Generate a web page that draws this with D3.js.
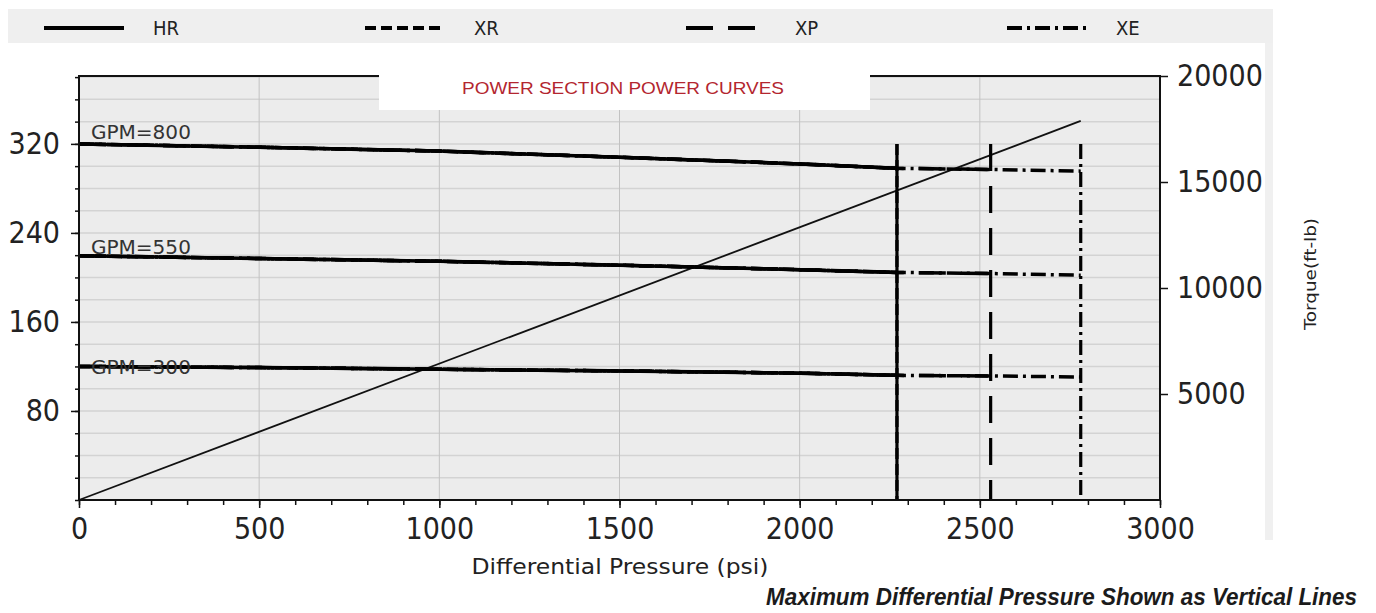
<!DOCTYPE html>
<html><head><meta charset="utf-8">
<script src="https://cdn.jsdelivr.net/npm/d3@7"></script>
<style>body{margin:0;background:#fff;} svg{display:block;}</style>
</head><body><svg id="c" width="1376" height="613"></svg>
<script>
// ---- data ----
const seriesNames = ["HR", "XR", "XP", "XE"];
const maxPressure = [2270, 2270, 2530, 2780];
const gpmLabels = ["GPM=800", "GPM=550", "GPM=300"];
const gpmLabelAnchor = [324, 221, 113];
const pressurePoints = [0, 500, 1000, 1500, 2000, 2270, 2530, 2780];
const rpm800 = [320, 317, 313.5, 308, 302, 298, 297, 295.5];
const rpm550 = [219.5, 217, 214.5, 211, 207, 204.5, 203.5, 202];
const rpm300 = [120, 119, 117.5, 116, 114, 112, 111.5, 110.5];
const verticalTop = 320;
const torquePressure = [0, 2780];
const torqueValues = [0, 17880];
const xTicks = [0, 500, 1000, 1500, 2000, 2500, 3000];
const leftTicks = [80, 160, 240, 320];
const rightTicks = [5000, 10000, 15000, 20000];
const titleText = "POWER SECTION POWER CURVES";
const xLabel = "Differential Pressure (psi)";
const yRightLabel = "Torque(ft-lb)";
const noteText = "Maximum Differential Pressure Shown as Vertical Lines";

// ---- styles ----
const dashes = {HR: null, XR: "11,5", XP: "27,15", XE: "15,5,3,5"};
const COND = "'DejaVu Sans Condensed','DejaVu Sans',sans-serif";

const svg = d3.select("#c");
const L = 79, R = 1160, T = 76, B = 500;
const x = d3.scaleLinear().domain([0, 3000]).range([L, R]);
const yL = d3.scaleLinear().domain([0, 381]).range([B, T]);
const yR = d3.scaleLinear().domain([0, 20000]).range([B, T]);

// legend band and right strip
svg.append("rect").attr("x", 8).attr("y", 9).attr("width", 1265).attr("height", 34).attr("fill", "#efefef");
svg.append("rect").attr("x", 1265).attr("y", 43).attr("width", 8).attr("height", 497).attr("fill", "#f0f0f0");

// plot background
svg.append("rect").attr("x", L).attr("y", T).attr("width", R - L).attr("height", B - T).attr("fill", "#ececec");

// grids
const hGrid = d3.range(20, 381, 20);
svg.append("g").selectAll("line").data(hGrid).join("line")
  .attr("x1", L).attr("x2", R).attr("y1", d => yL(d)).attr("y2", d => yL(d))
  .attr("stroke", "#d3d3d3").attr("stroke-width", 1.5);
svg.append("g").selectAll("line").data(xTicks.slice(1, -1)).join("line")
  .attr("x1", d => x(d)).attr("x2", d => x(d)).attr("y1", T).attr("y2", B)
  .attr("stroke", "#c2c2c2").attr("stroke-width", 1);

// torque line
const lineT = d3.line().x(d => x(d[0])).y(d => yR(d[1]));
svg.append("path").datum(torquePressure.map((p, i) => [p, torqueValues[i]]))
  .attr("d", lineT).attr("fill", "none").attr("stroke", "#111").attr("stroke-width", 1.8);

// GPM curves
const lineL = d3.line().x(d => x(d[0])).y(d => yL(d[1]));
const gpmData = [rpm800, rpm550, rpm300];
const order = [3, 2, 1, 0];
gpmData.forEach((vals, gi) => {
  order.forEach(si => {
    const name = seriesNames[si];
    const pts = pressurePoints.map((p, i) => [p, vals[i]]).filter(d => d[0] <= maxPressure[si]);
    svg.append("path").datum(pts).attr("d", lineL)
      .attr("fill", "none").attr("stroke", "#000").attr("stroke-width", 3.5)
      .attr("stroke-dasharray", dashes[name]);
  });
  svg.append("text").attr("x", x(33)).attr("y", yL(gpmLabelAnchor[gi]))
    .attr("font-family", "'DejaVu Sans',sans-serif").attr("font-size", 20)
    .attr("fill", "#333").attr("textLength", 100).attr("lengthAdjust", "spacingAndGlyphs")
    .text(gpmLabels[gi]);
});

// vertical max-pressure lines
order.forEach(si => {
  const name = seriesNames[si];
  svg.append("line").attr("x1", x(maxPressure[si])).attr("x2", x(maxPressure[si]))
    .attr("y1", yL(verticalTop)).attr("y2", yL(0))
    .attr("stroke", "#000").attr("stroke-width", 3.2)
    .attr("stroke-dasharray", dashes[name]);
});

// axes
function styleAxis(g, size) {
  g.select(".domain").remove();
  g.selectAll(".tick line").attr("stroke", "#111").attr("stroke-width", 1.5);
  g.selectAll("text").attr("font-family", COND).attr("font-stretch", "condensed")
    .attr("font-size", size).attr("fill", "#222");
}
// minor ticks
svg.append("g").attr("transform", `translate(0,${B})`)
  .call(d3.axisBottom(x).tickValues(d3.range(0, 3001, 100)).tickSize(5).tickFormat(""))
  .call(g => styleAxis(g, 0));
svg.append("g").attr("transform", `translate(${L},0)`)
  .call(d3.axisLeft(yL).tickValues(d3.range(0, 381, 20)).tickSize(4).tickFormat(""))
  .call(g => styleAxis(g, 0));
// major ticks
svg.append("g").attr("transform", `translate(0,${B})`)
  .call(d3.axisBottom(x).tickValues(xTicks).tickSize(8).tickPadding(10).tickFormat(d3.format("d")))
  .call(g => styleAxis(g, 30));
svg.append("g").attr("transform", `translate(${L},0)`)
  .call(d3.axisLeft(yL).tickValues(leftTicks).tickSize(8).tickPadding(11).tickFormat(d3.format("d")))
  .call(g => styleAxis(g, 30));
svg.append("g").attr("transform", `translate(${R},0)`)
  .call(d3.axisRight(yR).tickValues(rightTicks).tickSize(8).tickPadding(9).tickFormat(d3.format("d")))
  .call(g => styleAxis(g, 30));

// border
svg.append("rect").attr("x", L).attr("y", T).attr("width", R - L).attr("height", B - T)
  .attr("fill", "none").attr("stroke", "#111").attr("stroke-width", 2);

// title box
svg.append("rect").attr("x", 379).attr("y", 69).attr("width", 491).attr("height", 41).attr("fill", "#fff");
svg.append("text").attr("x", 623).attr("y", 94).attr("text-anchor", "middle")
  .attr("font-family", "'Liberation Sans',Arial,sans-serif").attr("font-size", 16.5)
  .attr("fill", "#b3262f").attr("textLength", 322).attr("lengthAdjust", "spacingAndGlyphs").text(titleText);

// axis labels
svg.append("text").attr("x", 620).attr("y", 574).attr("text-anchor", "middle")
  .attr("font-family", COND).attr("font-size", 21).attr("fill", "#222")
  .attr("textLength", 297).attr("lengthAdjust", "spacingAndGlyphs").text(xLabel);
svg.append("text").attr("transform", "translate(1316,274) rotate(-90)").attr("text-anchor", "middle")
  .attr("font-family", COND).attr("font-size", 16).attr("fill", "#222")
  .attr("textLength", 112).attr("lengthAdjust", "spacingAndGlyphs").text(yRightLabel);

// legend
seriesNames.forEach((name, i) => {
  const lx = 44 + i * 321;
  svg.append("line").attr("x1", lx).attr("x2", lx + 80).attr("y1", 28).attr("y2", 28)
    .attr("stroke", "#000").attr("stroke-width", 4).attr("stroke-dasharray", dashes[name]);
  svg.append("text").attr("x", lx + 109).attr("y", 35)
    .attr("font-family", COND).attr("font-stretch", "condensed").attr("font-size", 20)
    .attr("fill", "#222").text(name);
});

// note
svg.append("text").attr("x", 766).attr("y", 605)
  .attr("font-family", "'Liberation Sans Narrow','Liberation Sans',Arial,sans-serif")
  .attr("font-weight", "bold").attr("font-style", "italic").attr("font-size", 23)
  .attr("fill", "#1b1b1b").attr("textLength", 591).attr("lengthAdjust", "spacingAndGlyphs").text(noteText);
</script></body></html>
